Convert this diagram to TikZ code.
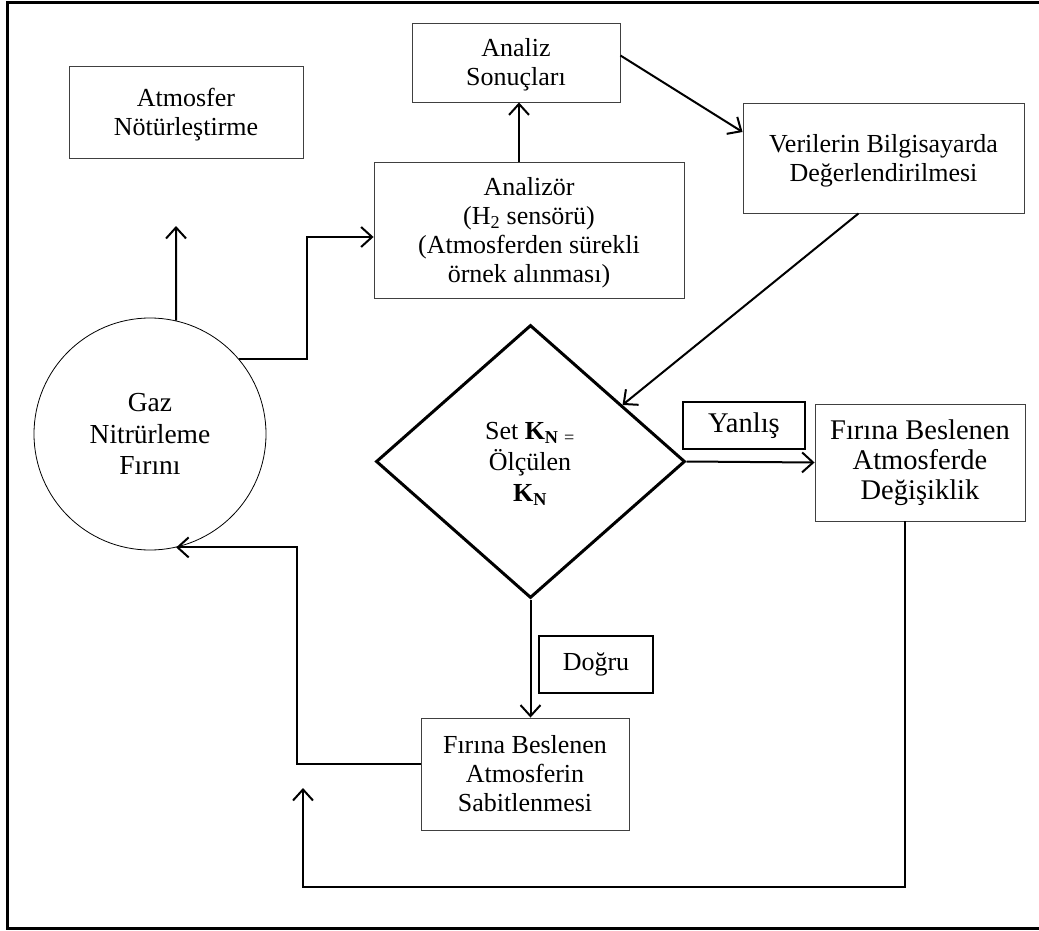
\documentclass[tikz,border=0pt]{standalone}
\usepackage{fontspec}
\setmainfont{Liberation Serif}
\usetikzlibrary{arrows.meta,shapes.geometric,calc}
% line strut: fixed ascent/descent so multi-line labels centre evenly
\newcommand{\lnst}{\rule[-5.7pt]{0pt}{29pt}}

\begin{document}
\begin{tikzpicture}[
  x=1pt, y=-1pt,
  txt/.style={font=\fontsize{26}{29}\selectfont, align=center},
  bigtxt/.style={font=\fontsize{28.5}{30}\selectfont},
  box/.style={txt, draw=black!75, line width=0.9pt, inner sep=0pt},
  tag/.style={txt, draw=black, line width=2pt, inner sep=0pt},
  conn/.style={line width=2pt, draw=black},
  arr/.style={conn, -{Straight Barb[length=11pt,width=20pt]}},
  frame/.style={line width=3pt, draw=black}
]
\useasboundingbox (0,0) rectangle (1039,931);

% outer frame (open on the right)
\coordinate (fa) at (1039,3);
\coordinate (fb) at (7,3);
\coordinate (fc) at (7,928);
\coordinate (fd) at (1039,928);
\draw[frame] (fa) -- (fb) -- (fc) -- (fd);

% blocks
\node[box, minimum width=234pt, minimum height=92pt] (AN) at (186,112)
  {\lnst Atmosfer\\Nötürleştirme\lnst};
\node[box, minimum width=208pt, minimum height=79pt] (AS) at (516,62.5)
  {\lnst Analiz\\Sonuçları\lnst};
\node[box, minimum width=310pt, minimum height=136pt] (AZ) at (529,230)
  {\lnst Analizör\\(H\textsubscript{2} sensörü)\\(Atmosferden sürekli\\örnek alınması)\lnst};
\node[box, minimum width=281pt, minimum height=110pt] (VB) at (883.5,158)
  {\lnst Verilerin Bilgisayarda\\Değerlendirilmesi\lnst};
\node[box, bigtxt, minimum width=210pt, minimum height=117pt] (FD) at (920,462.5)
  {Fırına Beslenen\\Atmosferde\\Değişiklik};
\node[box, minimum width=208pt, minimum height=112pt] (FS) at (525,774)
  {\lnst Fırına Beslenen\\Atmosferin\\Sabitlenmesi\lnst};

% furnace
\node[circle, draw=black, line width=0.8pt, minimum size=232pt, inner sep=0pt] (G) at (150,434) {};
\node[font=\fontsize{27.5}{31.5}\selectfont, align=center] (Gt) at (150,434)
  {Gaz\\Nitrürleme\\Fırını};

% decision
\node[diamond, draw=black, line width=3pt, minimum width=309pt,
      minimum height=273pt, inner sep=0pt] (D) at (530.5,461.5) {};
\node[font=\fontsize{26}{31}\selectfont, align=center] (Dt) at (530,464)
  {Set \textbf{K}\textsubscript{\textbf{N}\,\,=}\\Ölçülen\\\textbf{K}\textsubscript{\textbf{N}}};

% branch labels
\node[tag, bigtxt, minimum width=122pt, minimum height=47pt] (YL) at (744,425.5) {Yanlış};
\node[tag, minimum width=114pt, minimum height=57pt] (DG) at (596,664.5) {Doğru};

% helper points for the routed connectors
\coordinate (upEnd) at (176,226);
\coordinate (k1) at (307,237);
\coordinate (k2) at (297,0);
\coordinate (b2) at (303,887);
\coordinate (b3) at (303,788);

% connectors
\draw[arr] (G.77) -- (upEnd);
\draw[arr] (G.40) -| (k1) -- ([yshift=-7pt]AZ.west);
\draw[arr] ([xshift=3pt]AS.south |- AZ.north) -- ([xshift=3pt]AS.south);
\draw[arr] ([yshift=7pt]AS.east) -- ([yshift=26pt]VB.west);
\draw[arr] ([xshift=-25pt]VB.south) -- ($(D.north)!0.59!(D.east)$);
\draw[arr] (D.east) -- (FD.west);
\draw[arr] (D.south) -- (D.south |- FS.north);
\draw[arr] ([yshift=10pt]FS.west) -| (G.-77 -| k2) -- (G.-77);
\draw[arr] ([xshift=-15pt]FD.south) |- (b2) -- (b3);

\end{tikzpicture}
\end{document}
